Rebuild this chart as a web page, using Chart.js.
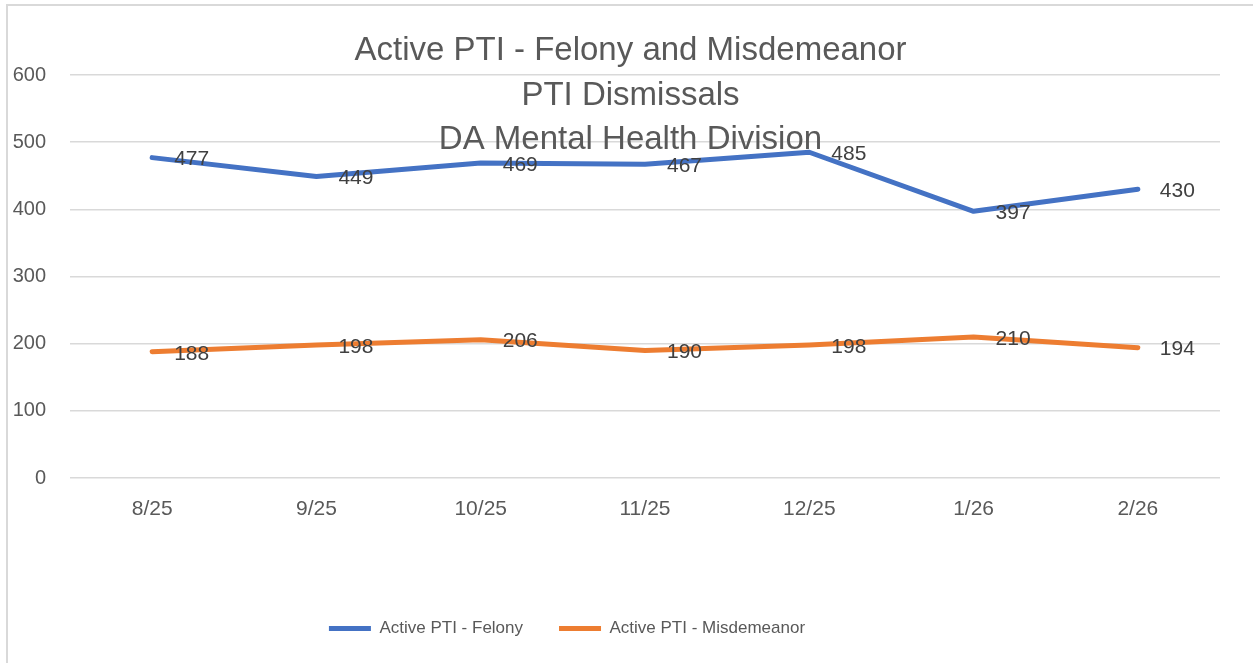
<!DOCTYPE html>
<html>
<head>
<meta charset="utf-8">
<script src="https://cdn.jsdelivr.net/npm/chart.js@4"></script>
<style>
html, body { margin: 0; padding: 0; background: #ffffff; overflow: hidden; }
#frame { position: absolute; left: 6px; top: 4px; width: 1262px; height: 672px; border: 2px solid #d9d9d9; box-sizing: border-box; }
#holder { position: absolute; left: 8px; top: 6px; width: 1245px; height: 657px; }
</style>
</head>
<body>
<div id="frame"></div>
<div id="holder"><canvas id="main-chart"></canvas></div>
<script>
// values
const months = ['8/25', '9/25', '10/25', '11/25', '12/25', '1/26', '2/26'];
const felony = [477, 449, 469, 467, 485, 397, 430];
const misdemeanor = [188, 198, 206, 190, 198, 210, 194];
const y_min = 0;
const y_max = 600;
const y_step = 100;
const title_lines = ['Active PTI - Felony and Misdemeanor', 'PTI Dismissals', 'DA Mental Health Division'];

const font_family = "'Liberation Sans', Arial, sans-serif";
const text_grey = '#595959';
const legend_shift = -47;

// excel style overlay title, drawn over the plot
const overlayTitle = {
    id: 'overlayTitle',
    afterDraw(chart) {
        const ctx = chart.ctx;
        ctx.save();
        ctx.fillStyle = text_grey;
        ctx.font = '33px ' + font_family;
        ctx.textAlign = 'center';
        ctx.textBaseline = 'middle';
        const tops = [45, 90, 134];
        for (let i = 0; i < title_lines.length; i++)
            ctx.fillText(title_lines[i], chart.width / 2, tops[i]);
        ctx.restore();
    }
};

// value labels to the right of each point
const pointLabels = {
    id: 'pointLabels',
    afterDatasetsDraw(chart) {
        const ctx = chart.ctx;
        ctx.save();
        ctx.fillStyle = '#404040';
        ctx.font = '21px ' + font_family;
        ctx.textAlign = 'left';
        ctx.textBaseline = 'middle';
        chart.data.datasets.forEach((ds, di) => {
            const meta = chart.getDatasetMeta(di);
            meta.data.forEach((pt, i) => {
                ctx.fillText(String(ds.data[i]), pt.x + 22, pt.y + 2);
            });
        });
        ctx.restore();
    }
};

// legend is not centred on the chart in the original
const legendNudge = {
    id: 'legendNudge',
    afterLayout(chart) {
        if (chart.legend) {
            chart.legend.left += legend_shift;
            chart.legend.right += legend_shift;
        }
    }
};

const data = {
    labels: months,
    datasets: [
        {
            label: 'Active PTI - Felony',
            data: felony,
            borderColor: '#4472c4',
            backgroundColor: '#4472c4',
            borderWidth: 5,
            borderCapStyle: 'round',
            borderJoinStyle: 'round',
            pointRadius: 0,
            pointStyle: 'line',
            tension: 0
        },
        {
            label: 'Active PTI - Misdemeanor',
            data: misdemeanor,
            borderColor: '#ed7d31',
            backgroundColor: '#ed7d31',
            borderWidth: 5,
            borderCapStyle: 'round',
            borderJoinStyle: 'round',
            pointRadius: 0,
            pointStyle: 'line',
            tension: 0
        }
    ]
};

const config = {
    type: 'line',
    data: data,
    options: {
        responsive: true,
        maintainAspectRatio: false,
        animation: false,
        layout: {
            padding: { top: 69, right: 33, bottom: 16, left: 0 }
        },
        plugins: {
            title: { display: false },
            tooltip: { enabled: false },
            legend: {
                position: 'bottom',
                labels: {
                    usePointStyle: true,
                    pointStyleWidth: 42,
                    padding: 36,
                    color: text_grey,
                    font: { family: font_family, size: 17 }
                }
            }
        },
        scales: {
            x: {
                offset: true,
                grid: { display: false, drawTicks: false },
                border: { display: false },
                ticks: {
                    color: text_grey,
                    padding: 19,
                    font: { family: font_family, size: 21 }
                },
                afterFit(scale) { scale.height = 106; }
            },
            y: {
                min: y_min,
                max: y_max,
                grid: { color: '#d9d9d9', lineWidth: 1.5, drawTicks: false },
                border: { display: false },
                ticks: {
                    stepSize: y_step,
                    color: text_grey,
                    padding: 24,
                    font: { family: font_family, size: 20 }
                },
                afterFit(scale) { scale.width = 62; }
            }
        }
    },
    plugins: [overlayTitle, pointLabels, legendNudge]
};

const myChart = new Chart(document.getElementById('main-chart'), config);
</script>
</body>
</html>
